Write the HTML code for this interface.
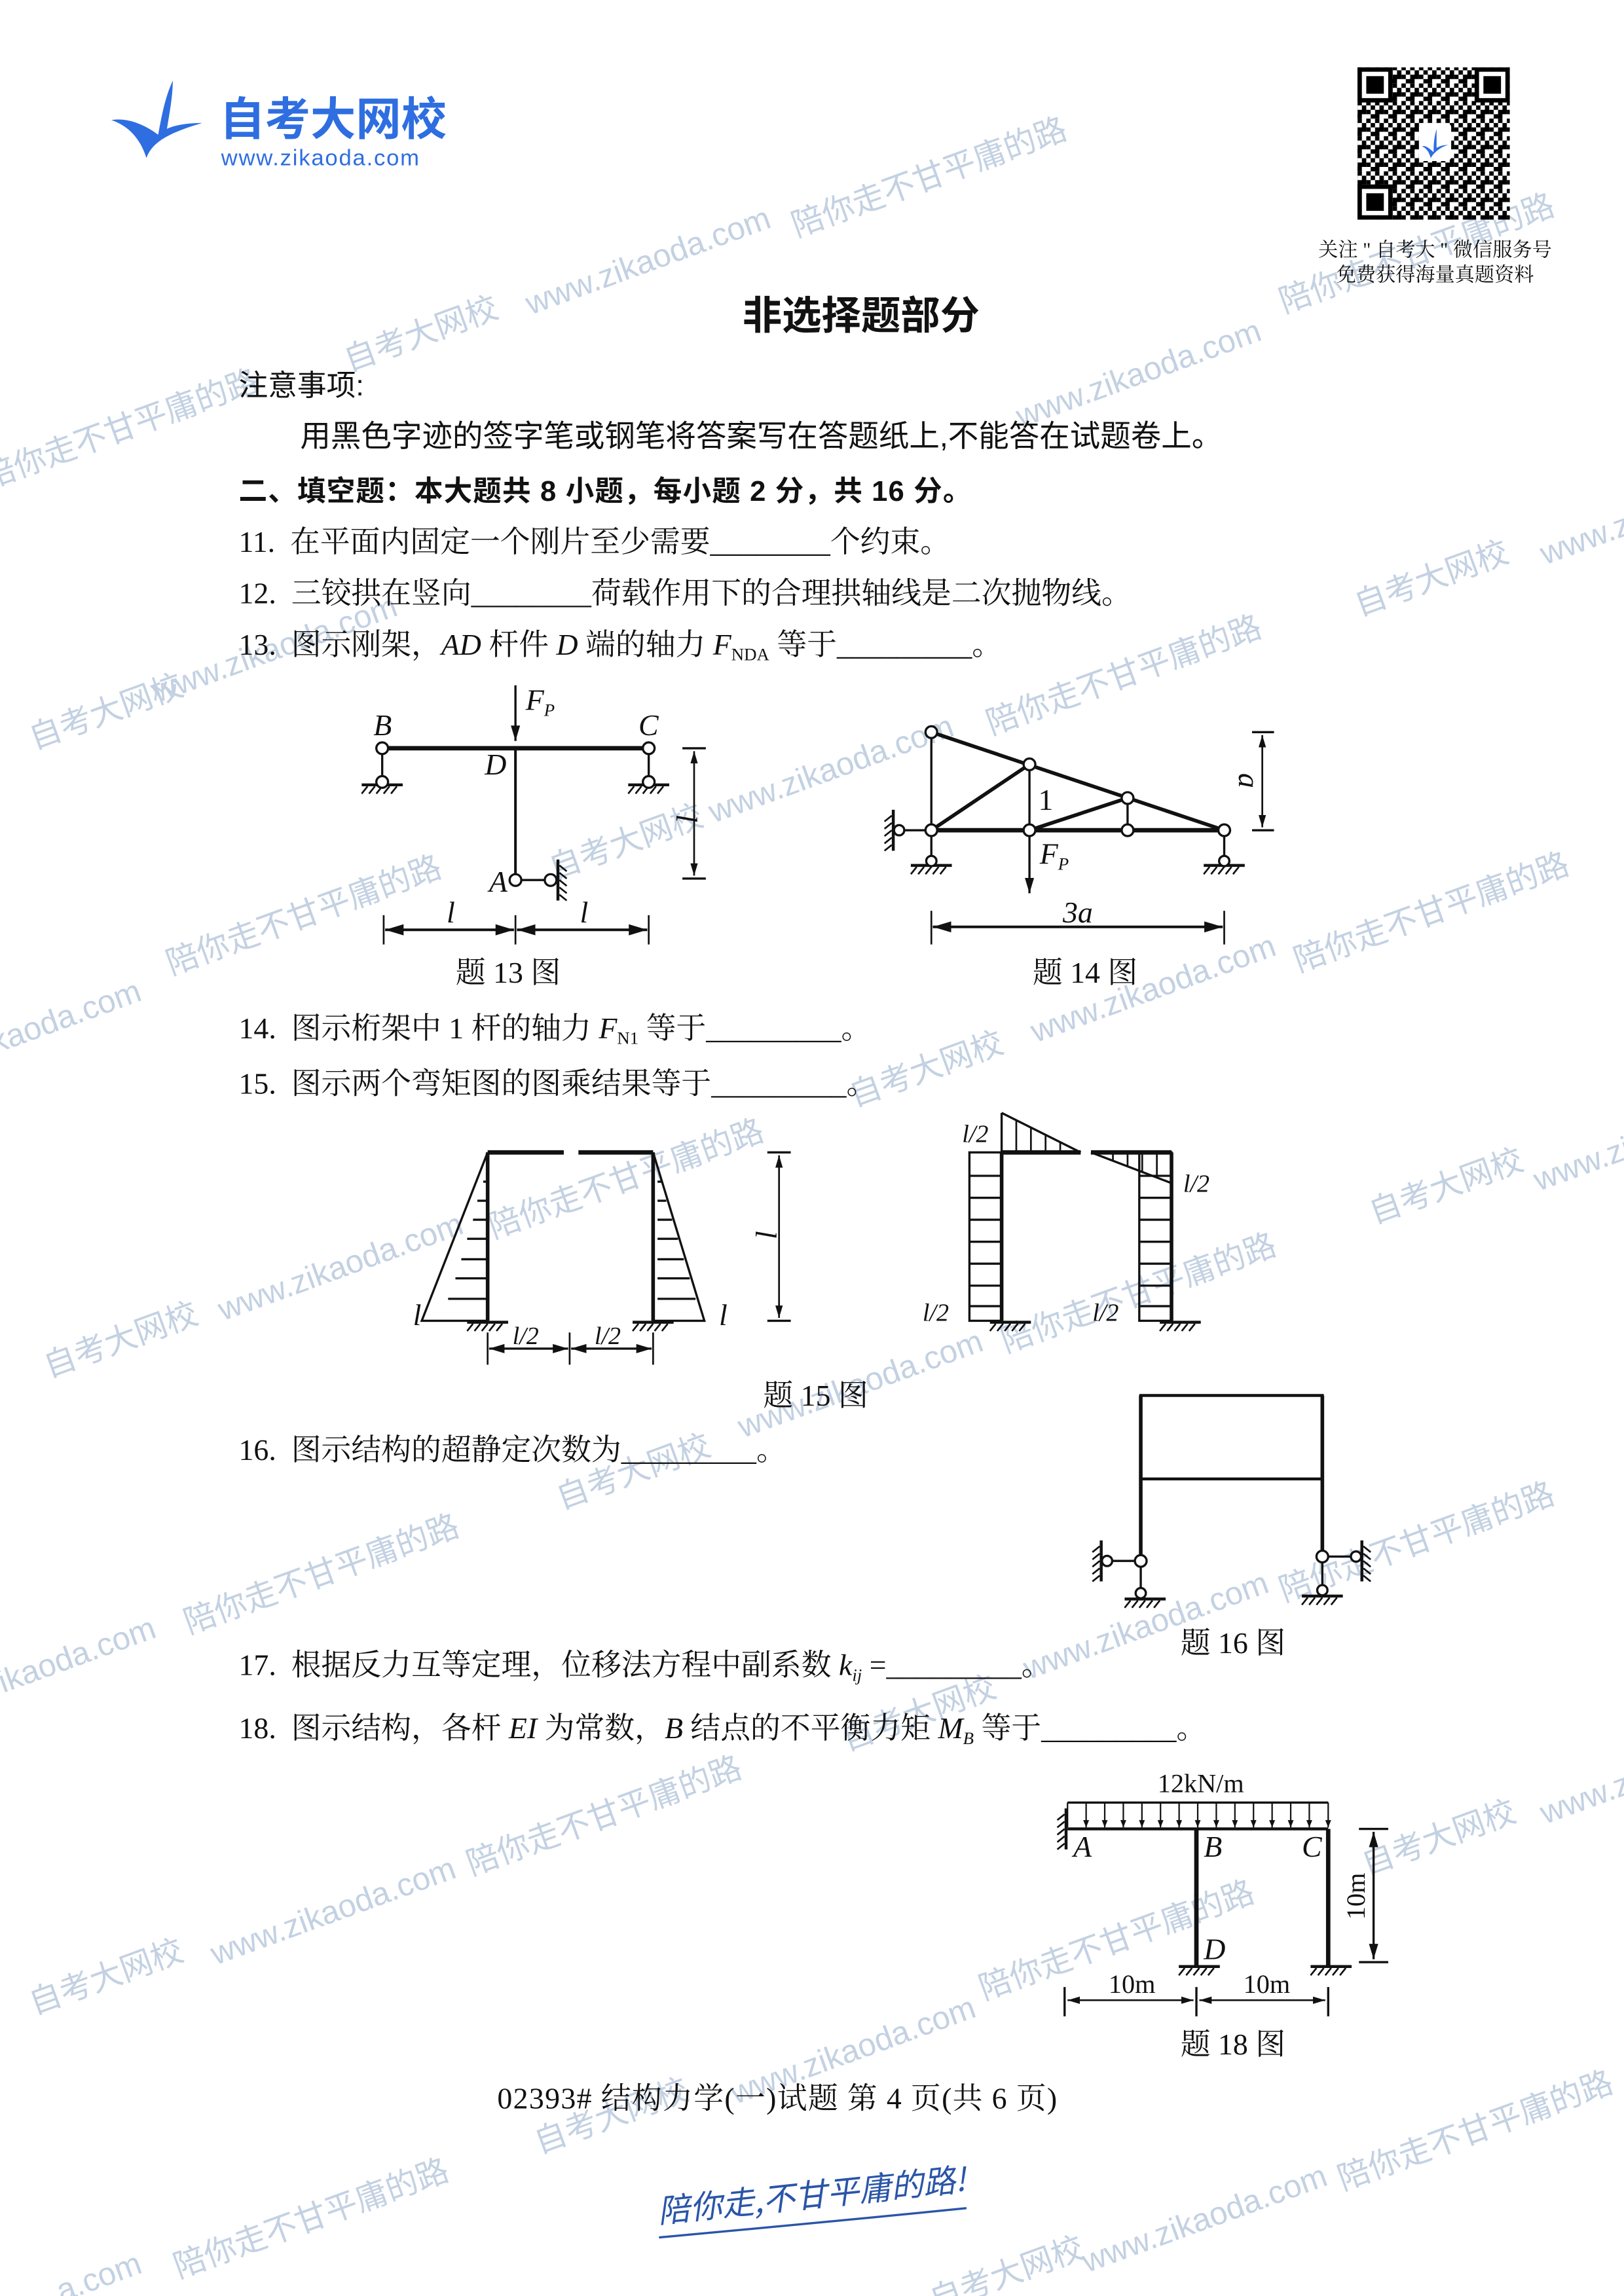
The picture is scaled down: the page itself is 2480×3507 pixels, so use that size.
<!DOCTYPE html>
<html><head><meta charset="utf-8">
<style>
html,body{margin:0;padding:0;background:#fff;}
svg{display:block;}
.t{font-family:"Liberation Serif","Noto Serif CJK SC",serif;font-size:20.5px;fill:#111;white-space:pre;}
.s{font-family:"Liberation Sans","Noto Sans CJK SC",sans-serif;fill:#111;white-space:pre;}
.i{font-style:italic;}
.wm{font-family:"Liberation Sans","Noto Sans CJK SC",sans-serif;font-size:22px;fill:#c3d1e2;text-anchor:middle;}
.ln{stroke:#111;fill:none;}
.c{fill:#fff;stroke:#111;stroke-width:1.5;}
</style></head><body>
<svg width="2480" height="3507" viewBox="0 0 1109 1568" preserveAspectRatio="none" xmlns="http://www.w3.org/2000/svg">
<defs>
<marker id="ah" viewBox="0 0 10 10" refX="10" refY="5" markerWidth="7" markerHeight="7" orient="auto-start-reverse"><path d="M0,2 L10,5 L0,8 z" fill="#111"/></marker>
<g id="gnd"><line x1="-14" y1="0" x2="14" y2="0" stroke="#111" stroke-width="2"/><path d="M-10,1 l-4,5 M-5,1 l-4,5 M0,1 l-4,5 M5,1 l-4,5 M10,1 l-4,5" stroke="#111" stroke-width="1.2"/></g>
<g id="wallL"><line x1="0" y1="-14" x2="0" y2="14" stroke="#111" stroke-width="2"/><path d="M-1,-10 l-5,4 M-1,-5 l-5,4 M-1,0 l-5,4 M-1,5 l-5,4 M-1,10 l-5,4" stroke="#111" stroke-width="1.2"/></g>
<pattern id="qr" width="12" height="12" patternUnits="userSpaceOnUse">
<rect width="12" height="12" fill="#fff"/>
<rect x="0" y="0" width="3" height="3" fill="#000"/><rect x="6" y="0" width="3" height="6" fill="#000"/>
<rect x="3" y="3" width="3" height="3" fill="#000"/><rect x="9" y="3" width="3" height="3" fill="#000"/>
<rect x="0" y="6" width="6" height="3" fill="#000"/><rect x="9" y="9" width="3" height="3" fill="#000"/>
<rect x="3" y="9" width="3" height="3" fill="#000"/>
</pattern>
</defs>

<!-- watermarks -->
<g>
<text class="wm" transform="translate(637,128) rotate(-20)">陪你走不甘平庸的路</text>
<text class="wm" transform="translate(445,185) rotate(-20)">www.zikaoda.com</text>
<text class="wm" transform="translate(290,235) rotate(-20)">自考大网校</text>
<text class="wm" transform="translate(780,262) rotate(-20)">www.zikaoda.com</text>
<text class="wm" transform="translate(970,180) rotate(-20)">陪你走不甘平庸的路</text>
<text class="wm" transform="translate(85,300) rotate(-20)">陪你走不甘平庸的路</text>
<text class="wm" transform="translate(980,402) rotate(-20)">自考大网校</text>
<text class="wm" transform="translate(1085,375) rotate(-20)">www.z</text>
<text class="wm" transform="translate(190,450) rotate(-20)">www.zikaoda.com</text>
<text class="wm" transform="translate(75,493) rotate(-20)">自考大网校</text>
<text class="wm" transform="translate(770,468) rotate(-20)">陪你走不甘平庸的路</text>
<text class="wm" transform="translate(570,532) rotate(-20)">www.zikaoda.com</text>
<text class="wm" transform="translate(430,582) rotate(-20)">自考大网校</text>
<text class="wm" transform="translate(210,632) rotate(-20)">陪你走不甘平庸的路</text>
<text class="wm" transform="translate(980,630) rotate(-20)">陪你走不甘平庸的路</text>
<text class="wm" transform="translate(790,682) rotate(-20)">www.zikaoda.com</text>
<text class="wm" transform="translate(635,737) rotate(-20)">自考大网校</text>
<text class="wm" transform="translate(45,702) rotate(-20)">ikaoda.com</text>
<text class="wm" transform="translate(1088,800) rotate(-20)">www.zik</text>
<text class="wm" transform="translate(990,817) rotate(-20)">自考大网校</text>
<text class="wm" transform="translate(430,812) rotate(-20)">陪你走不甘平庸的路</text>
<text class="wm" transform="translate(235,872) rotate(-20)">www.zikaoda.com</text>
<text class="wm" transform="translate(85,922) rotate(-20)">自考大网校</text>
<text class="wm" transform="translate(780,890) rotate(-20)">陪你走不甘平庸的路</text>
<text class="wm" transform="translate(590,952) rotate(-20)">www.zikaoda.com</text>
<text class="wm" transform="translate(435,1012) rotate(-20)">自考大网校</text>
<text class="wm" transform="translate(970,1060) rotate(-20)">陪你走不甘平庸的路</text>
<text class="wm" transform="translate(222,1082) rotate(-20)">陪你走不甘平庸的路</text>
<text class="wm" transform="translate(55,1137) rotate(-20)">ikaoda.com</text>
<text class="wm" transform="translate(785,1117) rotate(-20)">www.zikaoda.com</text>
<text class="wm" transform="translate(630,1177) rotate(-20)">自考大网校</text>
<text class="wm" transform="translate(985,1262) rotate(-20)">自考大网校</text>
<text class="wm" transform="translate(1085,1235) rotate(-20)">www.z</text>
<text class="wm" transform="translate(415,1247) rotate(-20)">陪你走不甘平庸的路</text>
<text class="wm" transform="translate(230,1312) rotate(-20)">www.zikaoda.com</text>
<text class="wm" transform="translate(75,1357) rotate(-20)">自考大网校</text>
<text class="wm" transform="translate(765,1332) rotate(-20)">陪你走不甘平庸的路</text>
<text class="wm" transform="translate(585,1407) rotate(-20)">www.zikaoda.com</text>
<text class="wm" transform="translate(420,1452) rotate(-20)">自考大网校</text>
<text class="wm" transform="translate(1010,1462) rotate(-20)">陪你走不甘平庸的路</text>
<text class="wm" transform="translate(825,1522) rotate(-20)">www.zikaoda.com</text>
<text class="wm" transform="translate(690,1560) rotate(-20)">自考大网校</text>
<text class="wm" transform="translate(215,1522) rotate(-20)">陪你走不甘平庸的路</text>
<text class="wm" transform="translate(70,1562) rotate(-20)">a.com</text>
</g>

<!-- header logo -->
<path d="M118,55 C112,68 110,82 108,92 C100,86 88,80 76,82 C88,86 96,95 100,108 C104,96 118,90 138,84 C126,84 118,86 114,88 C116,76 118,65 118,55 Z" fill="#2e6ee0"/>
<text class="s" x="150" y="92" style="font-size:31px;font-weight:bold;fill:#2e6ee0">自考大网校</text>
<text class="s" x="151" y="113" style="font-size:15.5px;fill:#2e6ee0;letter-spacing:0.8px">www.zikaoda.com</text>

<!-- QR -->
<rect x="927" y="46" width="104" height="104" fill="url(#qr)"/>
<g fill="#000">
<rect x="927" y="46" width="24" height="24"/><rect x="1007" y="46" width="24" height="24"/><rect x="927" y="126" width="24" height="24"/>
</g>
<g fill="#fff"><rect x="930" y="49" width="18" height="18"/><rect x="1010" y="49" width="18" height="18"/><rect x="930" y="129" width="18" height="18"/></g>
<g fill="#000"><rect x="933" y="52" width="12" height="12"/><rect x="1013" y="52" width="12" height="12"/><rect x="933" y="132" width="12" height="12"/></g>
<rect x="969" y="84" width="22" height="26" rx="3" fill="#fff"/>
<path d="M981,88 C979,95 979,100 979,104 C976,101 973,99 971,100 C974,101 976,104 977,108 C980,103 985,100 989,99 C985,99 983,100 981,101 Z" fill="#2e6ee0"/>
<text class="t" x="980" y="175" style="font-size:13.5px;text-anchor:middle">关注 " 自考大 " 微信服务号</text>
<text class="t" x="980" y="192" style="font-size:13.5px;text-anchor:middle">免费获得海量真题资料</text>

<!-- title -->
<text class="s" x="588" y="225" style="font-size:27px;text-anchor:middle;font-weight:bold">非选择题部分</text>
<text class="s" x="163" y="270" style="font-size:20px">注意事项:</text>
<text class="s" x="205" y="305" style="font-size:20.8px">用黑色字迹的签字笔或钢笔将答案写在答题纸上,不能答在试题卷上。</text>
<text class="s" x="163" y="342" style="font-size:19.5px;font-weight:bold;letter-spacing:0.5px">二、填空题：本大题共 8 小题，每小题 2 分，共 16 分。</text>

<text class="t" x="163" y="377">11.  在平面内固定一个刚片至少需要________个约束。</text>
<text class="t" x="163" y="412">12.  三铰拱在竖向________荷载作用下的合理拱轴线是二次抛物线。</text>
<text class="t" x="163" y="447">13.  图示刚架，<tspan class="i">AD</tspan> 杆件 <tspan class="i">D</tspan> 端的轴力 <tspan class="i">F</tspan><tspan style="font-size:12px" dy="4">NDA</tspan><tspan dy="-4"> 等于_________。</tspan></text>

<!-- Fig 13 -->
<g>
<line class="ln" x1="261" y1="511" x2="443" y2="511" stroke-width="3"/>
<line class="ln" x1="352" y1="511" x2="352" y2="598" stroke-width="1.8"/>
<line class="ln" x1="261" y1="515" x2="261" y2="531" stroke-width="1.5"/>
<line class="ln" x1="443" y1="515" x2="443" y2="531" stroke-width="1.5"/>
<use href="#gnd" x="261" y="536"/><use href="#gnd" x="443" y="536"/>
<circle class="c" cx="261" cy="511" r="4"/><circle class="c" cx="443" cy="511" r="4"/>
<circle class="c" cx="261" cy="534" r="4"/><circle class="c" cx="443" cy="534" r="4"/>
<line class="ln" x1="356" y1="601" x2="372" y2="601" stroke-width="1.5"/>
<g transform="translate(381,601) scale(-1,1)"><use href="#wallL"/></g>
<circle class="c" cx="352" cy="601" r="4"/><circle class="c" cx="376" cy="601" r="4"/>
<line class="ln" x1="352" y1="468" x2="352" y2="506" stroke-width="1.5" marker-end="url(#ah)"/>
<text class="t i" x="359" y="485">F<tspan style="font-size:12px" dy="4">P</tspan></text>
<text class="t i" x="255" y="502">B</text><text class="t i" x="436" y="502">C</text>
<text class="t i" x="331" y="529">D</text><text class="t i" x="334" y="609">A</text>
<line class="ln" x1="466" y1="511" x2="482" y2="511" stroke-width="1.5"/>
<line class="ln" x1="466" y1="600" x2="482" y2="600" stroke-width="1.5"/>
<line class="ln" x1="474" y1="513" x2="474" y2="598" stroke-width="1.2" marker-start="url(#ah)" marker-end="url(#ah)"/>
<text class="t i" transform="translate(462,556) rotate(90)">l</text>
<line class="ln" x1="262" y1="625" x2="262" y2="645" stroke-width="1.2"/>
<line class="ln" x1="352" y1="625" x2="352" y2="645" stroke-width="1.2"/>
<line class="ln" x1="443" y1="625" x2="443" y2="645" stroke-width="1.2"/>
<line class="ln" x1="263" y1="635" x2="351" y2="635" stroke-width="1.8" marker-start="url(#ah)" marker-end="url(#ah)"/>
<line class="ln" x1="353" y1="635" x2="442" y2="635" stroke-width="1.8" marker-start="url(#ah)" marker-end="url(#ah)"/>
<text class="t i" x="305" y="630">l</text><text class="t i" x="396" y="630">l</text>
<text class="t" x="347" y="671" style="text-anchor:middle">题 13 图</text>
</g>

<!-- Fig 14 -->
<g>
<line class="ln" x1="636" y1="567" x2="836" y2="567" stroke-width="3"/>
<line class="ln" x1="636" y1="500" x2="836" y2="567" stroke-width="2.5"/>
<line class="ln" x1="636" y1="500" x2="636" y2="567" stroke-width="1.5"/>
<line class="ln" x1="636" y1="567" x2="703" y2="522" stroke-width="2.5"/>
<line class="ln" x1="703" y1="522" x2="703" y2="567" stroke-width="1.5"/>
<line class="ln" x1="703" y1="567" x2="770" y2="545" stroke-width="2.5"/>
<line class="ln" x1="770" y1="545" x2="770" y2="567" stroke-width="1.5"/>
<line class="ln" x1="636" y1="571" x2="636" y2="586" stroke-width="1.5"/>
<line class="ln" x1="836" y1="571" x2="836" y2="586" stroke-width="1.5"/>
<use href="#gnd" x="636" y="591"/><use href="#gnd" x="836" y="591"/>
<line class="ln" x1="615" y1="567" x2="632" y2="567" stroke-width="1.5"/>
<use href="#wallL" x="610" y="567"/>
<circle class="c" cx="614" cy="567" r="3.5"/>
<circle class="c" cx="636" cy="500" r="4"/><circle class="c" cx="703" cy="522" r="4"/><circle class="c" cx="770" cy="545" r="4"/>
<circle class="c" cx="636" cy="567" r="4"/><circle class="c" cx="703" cy="567" r="4"/><circle class="c" cx="770" cy="567" r="4"/><circle class="c" cx="836" cy="567" r="4"/>
<circle class="c" cx="636" cy="588" r="3.5"/><circle class="c" cx="836" cy="588" r="3.5"/>
<line class="ln" x1="703" y1="571" x2="703" y2="610" stroke-width="1.5" marker-end="url(#ah)"/>
<text class="t" x="709" y="553">1</text>
<text class="t i" x="710" y="590">F<tspan style="font-size:12px" dy="4">P</tspan></text>
<line class="ln" x1="855" y1="500" x2="870" y2="500" stroke-width="1.5"/>
<line class="ln" x1="855" y1="567" x2="870" y2="567" stroke-width="1.5"/>
<line class="ln" x1="862" y1="502" x2="862" y2="565" stroke-width="1.2" marker-start="url(#ah)" marker-end="url(#ah)"/>
<text class="t i" transform="translate(846,528) rotate(90)">a</text>
<line class="ln" x1="636" y1="622" x2="636" y2="645" stroke-width="1.2"/>
<line class="ln" x1="836" y1="622" x2="836" y2="645" stroke-width="1.2"/>
<line class="ln" x1="637" y1="633" x2="835" y2="633" stroke-width="1.8" marker-start="url(#ah)" marker-end="url(#ah)"/>
<text class="t i" x="736" y="630" style="text-anchor:middle">3a</text>
<text class="t" x="741" y="671" style="text-anchor:middle">题 14 图</text>
</g>

<text class="t" x="163" y="709">14.  图示桁架中 1 杆的轴力 <tspan class="i">F</tspan><tspan style="font-size:12px" dy="4">N1</tspan><tspan dy="-4"> 等于_________。</tspan></text>
<text class="t" x="163" y="747">15.  图示两个弯矩图的图乘结果等于_________。</text>

<!-- Fig 15 left -->
<g>
<line class="ln" x1="333" y1="787" x2="385" y2="787" stroke-width="3"/>
<line class="ln" x1="395" y1="787" x2="446" y2="787" stroke-width="3"/>
<line class="ln" x1="333" y1="787" x2="333" y2="902" stroke-width="2.5"/>
<line class="ln" x1="446" y1="787" x2="446" y2="902" stroke-width="2.5"/>
<path class="ln" d="M333,787 L288,902 L333,902" stroke-width="1.5"/>
<path class="ln" d="M446,787 L481,902 L446,902" stroke-width="1.5"/>
<path class="ln" stroke-width="1.5" d="M330,807 h3 M326,820 h7 M323,833 h10 M319,846 h14 M315,860 h18 M311,873 h22 M306,887 h27 M449,807 h3 M449,820 h6 M449,833 h10 M449,846 h14 M449,860 h18 M449,873 h22 M449,887 h26"/>
<use href="#gnd" x="333" y="903"/><use href="#gnd" x="446" y="903"/>
<text class="t i" x="282" y="905">l</text><text class="t i" x="491" y="905">l</text>
<line class="ln" x1="524" y1="787" x2="540" y2="787" stroke-width="1.5"/>
<line class="ln" x1="524" y1="902" x2="540" y2="902" stroke-width="1.5"/>
<line class="ln" x1="532" y1="789" x2="532" y2="900" stroke-width="1.2" marker-start="url(#ah)" marker-end="url(#ah)"/>
<text class="t i" transform="translate(516,840) rotate(90)">l</text>
<line class="ln" x1="333" y1="910" x2="333" y2="932" stroke-width="1.2"/>
<line class="ln" x1="389" y1="910" x2="389" y2="932" stroke-width="1.2"/>
<line class="ln" x1="446" y1="910" x2="446" y2="932" stroke-width="1.2"/>
<line class="ln" x1="334" y1="921" x2="388" y2="921" stroke-width="1.5" marker-start="url(#ah)" marker-end="url(#ah)"/>
<line class="ln" x1="390" y1="921" x2="445" y2="921" stroke-width="1.5" marker-start="url(#ah)" marker-end="url(#ah)"/>
<text class="t i" x="350" y="918" style="font-size:17px">l/2</text><text class="t i" x="406" y="918" style="font-size:17px">l/2</text>
</g>
<!-- Fig 15 right -->
<g>
<line class="ln" x1="684" y1="787" x2="738" y2="787" stroke-width="3"/>
<line class="ln" x1="745" y1="787" x2="800" y2="787" stroke-width="3"/>
<line class="ln" x1="684" y1="787" x2="684" y2="902" stroke-width="2.5"/>
<line class="ln" x1="800" y1="787" x2="800" y2="902" stroke-width="2.5"/>
<rect x="662" y="787" width="22" height="115" class="ln" stroke-width="1.5"/>
<rect x="778" y="787" width="22" height="115" class="ln" stroke-width="1.5"/>
<path class="ln" stroke-width="1.5" d="M662,803 h22 M662,818 h22 M662,833 h22 M662,848 h22 M662,863 h22 M662,878 h22 M662,892 h22 M778,803 h22 M778,818 h22 M778,833 h22 M778,848 h22 M778,863 h22 M778,878 h22 M778,892 h22"/>
<path class="ln" d="M684,760 L684,787 M684,760 L738,787" stroke-width="1.5"/>
<path class="ln" stroke-width="1.2" d="M694,765 v22 M704,770 v17 M714,775 v12 M724,780 v7"/>
<path class="ln" d="M745,787 L800,808" stroke-width="1.5"/>
<path class="ln" stroke-width="1.2" d="M760,787 v6 M770,787 v10 M780,787 v14 M790,787 v17"/>
<use href="#gnd" x="690" y="903"/><use href="#gnd" x="806" y="903"/>
<text class="t i" x="657" y="780" style="font-size:17px">l/2</text>
<text class="t i" x="808" y="814" style="font-size:17px">l/2</text>
<text class="t i" x="630" y="902" style="font-size:17px">l/2</text>
<text class="t i" x="746" y="902" style="font-size:17px">l/2</text>
</g>
<text class="t" x="557" y="960" style="text-anchor:middle">题 15 图</text>

<text class="t" x="163" y="997">16.  图示结构的超静定次数为_________。</text>

<!-- Fig 16 -->
<g>
<rect x="779" y="953" width="124" height="57" class="ln" stroke-width="2"/>
<line class="ln" x1="779" y1="953" x2="779" y2="1062" stroke-width="2.5"/>
<line class="ln" x1="903" y1="953" x2="903" y2="1060" stroke-width="2.5"/>
<line class="ln" x1="758" y1="1066" x2="775" y2="1066" stroke-width="1.5"/>
<use href="#wallL" x="752" y="1066"/>
<line class="ln" x1="779" y1="1070" x2="779" y2="1084" stroke-width="1.5"/>
<use href="#gnd" x="782" y="1092"/>
<circle class="c" cx="756" cy="1066" r="3.5"/><circle class="c" cx="779" cy="1066" r="4"/><circle class="c" cx="779" cy="1088" r="3.5"/>
<line class="ln" x1="907" y1="1063" x2="924" y2="1063" stroke-width="1.5"/>
<g transform="translate(930,1066) scale(-1,1)"><use href="#wallL"/></g>
<line class="ln" x1="903" y1="1067" x2="903" y2="1082" stroke-width="1.5"/>
<use href="#gnd" x="903" y="1090"/>
<circle class="c" cx="903" cy="1063" r="4"/><circle class="c" cx="926" cy="1063" r="3.5"/><circle class="c" cx="903" cy="1086" r="3.5"/>
<text class="t" x="842" y="1129" style="text-anchor:middle">题 16 图</text>
</g>

<text class="t" x="163" y="1144">17.  根据反力互等定理，位移法方程中副系数 <tspan class="i">k</tspan><tspan class="i" style="font-size:12px" dy="4">ij</tspan><tspan dy="-4"> =_________。</tspan></text>
<text class="t" x="163" y="1187">18.  图示结构，各杆 <tspan class="i">EI</tspan> 为常数，<tspan class="i">B</tspan> 结点的不平衡力矩 <tspan class="i">M</tspan><tspan class="i" style="font-size:12px" dy="4">B</tspan><tspan dy="-4"> 等于_________。</tspan></text>

<!-- Fig 18 -->
<g>
<text class="t" x="820" y="1224" style="text-anchor:middle;font-size:18px">12kN/m</text>
<line class="ln" x1="729" y1="1231" x2="907" y2="1231" stroke-width="1.5"/>
<path class="ln" stroke-width="1" d="M729,1231 v17 M741.7,1231 v17 M754.4,1231 v17 M767.1,1231 v17 M779.8,1231 v17 M792.5,1231 v17 M805.2,1231 v17 M817.9,1231 v17 M830.6,1231 v17 M843.3,1231 v17 M856,1231 v17 M868.7,1231 v17 M881.4,1231 v17 M894.1,1231 v17 M907,1231 v17"/>
<g fill="#111"><path d="M739.7,1243 l2,5 l2,-5z M752.4,1243 l2,5 l2,-5z M765.1,1243 l2,5 l2,-5z M777.8,1243 l2,5 l2,-5z M790.5,1243 l2,5 l2,-5z M803.2,1243 l2,5 l2,-5z M815.9,1243 l2,5 l2,-5z M828.6,1243 l2,5 l2,-5z M841.3,1243 l2,5 l2,-5z M854,1243 l2,5 l2,-5z M866.7,1243 l2,5 l2,-5z M879.4,1243 l2,5 l2,-5z M892.1,1243 l2,5 l2,-5z M905,1243 l2,5 l2,-5z"/></g>
<line class="ln" x1="729" y1="1249" x2="907" y2="1249" stroke-width="2"/>
<use href="#wallL" x="728" y="1249"/>
<line class="ln" x1="817" y1="1249" x2="817" y2="1342" stroke-width="3"/>
<line class="ln" x1="907" y1="1249" x2="907" y2="1342" stroke-width="3"/>
<use href="#gnd" x="819" y="1343"/><use href="#gnd" x="909" y="1343"/>
<text class="t i" x="733" y="1268">A</text><text class="t i" x="822" y="1268">B</text>
<text class="t i" x="889" y="1268">C</text><text class="t i" x="822" y="1338">D</text>
<line class="ln" x1="928" y1="1249" x2="948" y2="1249" stroke-width="1.5"/>
<line class="ln" x1="928" y1="1340" x2="948" y2="1340" stroke-width="1.5"/>
<line class="ln" x1="938" y1="1251" x2="938" y2="1338" stroke-width="1.5" marker-start="url(#ah)" marker-end="url(#ah)"/>
<text class="t" transform="translate(932,1295) rotate(-90)" style="text-anchor:middle;font-size:18px">10m</text>
<line class="ln" x1="727" y1="1357" x2="727" y2="1377" stroke-width="1.5"/>
<line class="ln" x1="817" y1="1357" x2="817" y2="1377" stroke-width="1.5"/>
<line class="ln" x1="907" y1="1357" x2="907" y2="1377" stroke-width="1.5"/>
<line class="ln" x1="729" y1="1366" x2="815" y2="1366" stroke-width="1.2" marker-start="url(#ah)" marker-end="url(#ah)"/>
<line class="ln" x1="819" y1="1366" x2="905" y2="1366" stroke-width="1.2" marker-start="url(#ah)" marker-end="url(#ah)"/>
<text class="t" x="773" y="1361" style="text-anchor:middle;font-size:18px">10m</text>
<text class="t" x="865" y="1361" style="text-anchor:middle;font-size:18px">10m</text>
<text class="t" x="842" y="1403" style="text-anchor:middle">题 18 图</text>
</g>

<!-- footer -->
<text class="t" x="531" y="1440" style="text-anchor:middle;letter-spacing:0.6px">02393# 结构力学(一)试题 第 4 页(共 6 页)</text>
<text transform="translate(555,1507) rotate(-6)" style="font-family:'Noto Sans CJK SC',sans-serif;font-size:22px;font-style:italic;fill:#2a55a8;text-anchor:middle">陪你走,不甘平庸的路!</text>
<path d="M450,1528 Q560,1518 660,1508" stroke="#2a55a8" stroke-width="1.5" fill="none"/>
</svg>
</body></html>
